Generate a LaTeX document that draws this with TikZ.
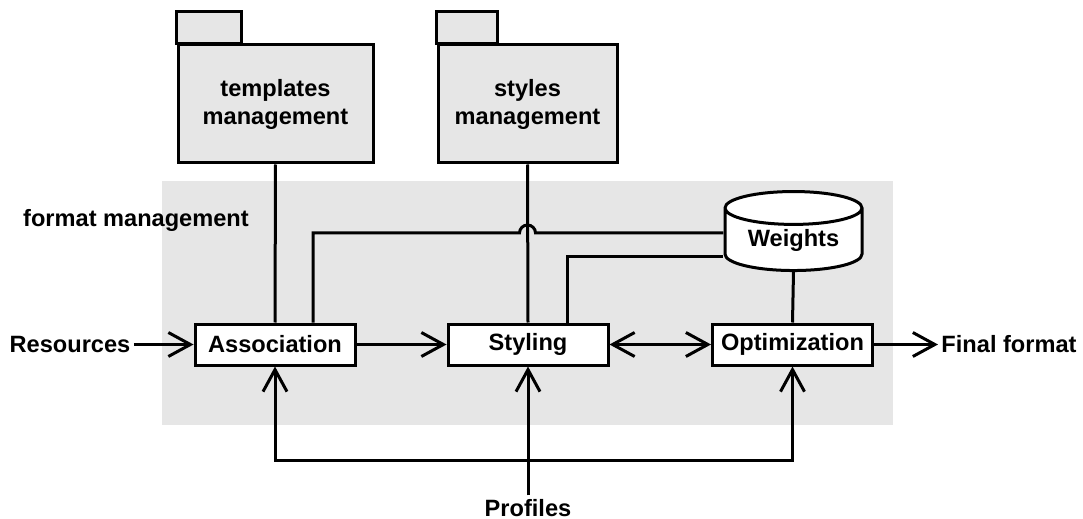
\documentclass[tikz,border=0pt]{standalone}
\usepackage{fontspec}
\setmainfont{Liberation Sans}
\usetikzlibrary{arrows.meta, calc, positioning, shapes.geometric}
\definecolor{fmtgray}{RGB}{230,230,230}

\begin{document}
\begin{tikzpicture}[
    x=0.5pt, y=-0.5pt,
    font=\fontsize{11.8}{14}\selectfont\bfseries,
    line width=1.5pt,
    >={Straight Barb[length=11pt, width=12pt]},
    pkg/.style={rectangle, draw, fill=fmtgray, align=center, inner sep=0pt,
                minimum height=59pt},
    pkgtab/.style={draw, fill=fmtgray},
    proc/.style={rectangle, draw, fill=white, inner sep=0pt,
                 minimum width=80pt, minimum height=20.5pt},
    store/.style={cylinder, shape border rotate=90, draw, fill=white, aspect=0.36,
                  minimum width=68.5pt, minimum height=39.5pt, inner sep=0pt},
    io/.style={inner sep=1pt},
    arr/.style={->},
    dblarr/.style={<->}
]
\useasboundingbox (0,0) rectangle (1083,519);

% Format management area
\fill[fmtgray] (162,181) rectangle (893,425);
\node[io] (fmtlbl) at (136,220) {format management};

% Packages on top
\node[pkg, minimum width=97.5pt] (tmpl) at (275.5,104) {templates\\management};
\draw[pkgtab] (tmpl.north west) rectangle ++(65,-32);
\node[pkg, minimum width=89.5pt] (styl) at (527.5,104) {styles\\management};
\draw[pkgtab] (styl.north west) rectangle ++(61,-32);

% Processing chain
\node[proc] (assoc) at (275,344.5) {Association};
\node[proc] (styling) at (528,344.5) {Styling};
\node[proc] (optim) at (792.5,344.5) {Optimization};
\node[store] (weights) at (793.5,240) {Weights};

% Inputs / outputs
\node[io] (res) at (70,344.5) {Resources};
\node[io] (final) at (1009,344.5) {Final format};
\node[io, anchor=base] (prof) at (528,516) {Profiles};

% Package links
\draw (tmpl.south) -- (assoc.north);
\draw (styl.south) -- (styling.north);

% Weights links (upper one jumps over the styles line)
\draw ([xshift=19pt]assoc.north) |- ($(styl.south |- weights.west)+(-8,-7)$)
  arc[start angle=180, end angle=0, radius=4pt] -- ([yshift=3.5pt]weights.west);
\draw ([xshift=19.5pt]styling.north) |- ([yshift=-8.5pt]weights.west);
\draw (weights.south) -- (optim.north);

% Main flow
\draw[arr] (res.east) -- (assoc.west);
\draw[arr] (assoc.east) -- (styling.west);
\draw[dblarr] (styling.east) -- (optim.west);
\draw[arr] (optim.east) -- (final.west);

% Profiles bus
\coordinate (pbus) at ($(prof.north)+(0,-35)$);
\draw[arr] (prof.north) -- (styling.south);
\draw[arr] (pbus) -| (assoc.south);
\draw[arr] (pbus) -| (optim.south);
\end{tikzpicture}
\end{document}
